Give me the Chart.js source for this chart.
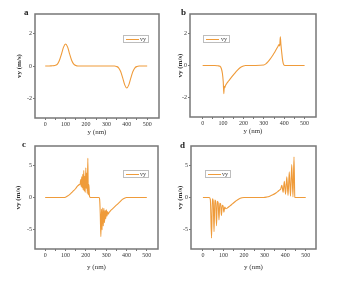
<!DOCTYPE html>
<html>
<head>
<meta charset="utf-8">
<script src="https://cdn.jsdelivr.net/npm/chart.js@4/dist/chart.umd.min.js"></script>
<style>
  html, body { margin: 0; padding: 0; background: #fff; }
  #wrap { position: relative; width: 352px; height: 281px; overflow: hidden; font-family: 'Liberation Serif', serif; }
  .panel { position: absolute; }
  .letter { position: absolute; font-size: 9px; font-weight: bold; color: #222; line-height: 1; }
  .legend { position: absolute; border: 1px solid #bdbdbd; height: 6px; font-size: 6px; line-height: 6px; color: #444; box-sizing: content-box; }
  .legend .ln { position: absolute; left: 2px; top: 3px; width: 13px; height: 1px; background: #ef9b3a; }
  .legend .tx { position: absolute; right: 2px; top: 0; }
</style>
</head>
<body>
<div id="wrap">
  <div class="panel" style="left:0;top:0"><canvas id="cA" width="176" height="140"></canvas></div>
  <div class="panel" style="left:176px;top:0"><canvas id="cB" width="176" height="140"></canvas></div>
  <div class="panel" style="left:0;top:140px"><canvas id="cC" width="176" height="141"></canvas></div>
  <div class="panel" style="left:176px;top:140px"><canvas id="cD" width="176" height="141"></canvas></div>

  <div class="letter" style="left:24px;top:8px">a</div>
  <div class="letter" style="left:181px;top:8px">b</div>
  <div class="letter" style="left:22px;top:140px">c</div>
  <div class="letter" style="left:180px;top:141px">d</div>

  <div class="legend" style="left:123px;top:35px;width:24px"><span class="ln"></span><span class="tx">vy</span></div>
  <div class="legend" style="left:203px;top:35px;width:25px"><span class="ln"></span><span class="tx">vy</span></div>
  <div class="legend" style="left:123px;top:170px;width:24px"><span class="ln"></span><span class="tx">vy</span></div>
  <div class="legend" style="left:205px;top:170px;width:24px"><span class="ln"></span><span class="tx">vy</span></div>
</div>
<script>
// positions (nm) and vy (m/s)
const posA = [0,10,20,30,40,50,60,70,80,90,100,110,120,130,140,150,160,200,250,300,340,350,360,370,380,390,400,410,420,430,440,450,460,500];
const vyA  = [0,0,0,0.01,0.02,0.04,0.12,0.35,0.74,1.16,1.35,1.16,0.73,0.34,0.11,0.03,0,0,0,0,0,-0.03,-0.11,-0.34,-0.73,-1.16,-1.35,-1.16,-0.73,-0.34,-0.11,-0.03,0,0];

const posB = [0,60,75,85,92,97,101,104,106,108,112,118,128,140,155,170,185,200,210,260,300,310,320,330,340,350,360,370,375,378,381,384,388,392,396,400,410,500];
const vyB  = [0,0,-0.02,-0.05,-0.2,-0.5,-1.0,-1.75,-1.3,-1.4,-1.25,-1.12,-0.95,-0.75,-0.52,-0.3,-0.12,-0.03,0,0,0.03,0.1,0.22,0.38,0.56,0.76,0.98,1.2,1.3,1.22,1.78,1.3,0.8,0.35,0.1,0.02,0,0];

const posC = [0,90,100,110,120,130,140,150,160,168,172,175,177,180,182,185,187,190,192,195,197,200,202,205,207,210,212,215,218,222,
              265,268,271,274,277,280,283,286,289,292,295,298,301,304,307,310,315,320,330,340,350,360,370,380,390,400,500];
const vyC  = [0,0,0.05,0.22,0.45,0.75,1.05,1.4,1.8,2.0,2.1,2.8,1.7,3.2,1.5,3.6,1.2,4.2,1.0,3.3,0.8,4.6,1.4,3.8,0.6,6.1,0.4,2.0,0.2,0,
              0,-0.3,-2.5,-6.1,-1.8,-5.0,-1.6,-4.4,-1.7,-3.9,-2.0,-3.3,-1.9,-2.9,-2.2,-2.6,-2.3,-2.1,-1.8,-1.5,-1.2,-0.9,-0.6,-0.3,-0.1,0,0];

const posD = [0,30,36,42,46,50,54,58,62,66,70,74,78,82,86,90,94,98,102,106,112,120,130,145,160,175,190,200,
              295,310,325,340,355,365,372,378,384,390,396,402,408,414,420,426,432,438,443,447,450,500];
const vyD  = [0,0,-0.3,-6.3,-0.2,-0.5,-5.3,-0.4,-0.6,-4.4,-0.6,-0.8,-3.5,-0.9,-1.0,-2.8,-1.2,-1.3,-2.3,-1.5,-1.75,-1.6,-1.35,-0.95,-0.55,-0.22,-0.05,0,
              0,0.07,0.2,0.42,0.7,0.95,1.15,1.3,1.9,0.8,2.5,0.5,3.2,0.3,4.0,0.2,5.1,0.1,6.3,0.05,0,0];

const xTickVals = [0,50,100,150,200,250,300,350,400,450,500];
const yTicksSmall = [-2,0,2];
const yTicksLarge = [-5,0,5];

const lineColor = '#ef9b3a';
const axisColor = '#777';
const textColor = '#333';
const fontFam = "'Liberation Serif', serif";

// closed box around the plot area
const framePlugin = {
  id: 'frame',
  afterDraw(chart) {
    const { ctx, chartArea: a } = chart;
    ctx.save();
    ctx.strokeStyle = axisColor;
    ctx.lineWidth = 1.5;
    ctx.strokeRect(a.left, a.top, a.right - a.left, a.bottom - a.top);
    ctx.restore();
  }
};

function drawPanel(id, xs, ys, opt) {
  const ctx = document.getElementById(id).getContext('2d');
  const pts = xs.map((x, i) => ({ x: x, y: ys[i] }));
  new Chart(ctx, {
    type: 'line',
    data: {
      datasets: [{
        label: 'vy',
        data: pts,
        borderColor: lineColor,
        borderWidth: 1.1,
        pointRadius: 0,
        cubicInterpolationMode: 'monotone',
        fill: false
      }]
    },
    options: {
      responsive: false,
      animation: false,
      events: [],
      layout: { padding: opt.pad },
      plugins: { legend: { display: false }, tooltip: { enabled: false } },
      scales: {
        x: {
          type: 'linear',
          min: opt.xmin, max: opt.xmax,
          afterBuildTicks: s => { s.ticks = xTickVals.map(v => ({ value: v })); },
          afterFit: s => { s.height = opt.xh; },
          border: { display: false },
          grid: { drawOnChartArea: false, tickLength: 2, color: axisColor },
          ticks: {
            autoSkip: false, maxRotation: 0, padding: 1,
            color: textColor, font: { family: fontFam, size: 6 },
            callback: v => (v % 100 === 0 ? String(v) : '')
          },
          title: { display: true, text: 'y (nm)', color: textColor, padding: 0, font: { family: fontFam, size: 7 } }
        },
        y: {
          min: opt.ymin, max: opt.ymax,
          afterBuildTicks: s => { s.ticks = opt.yticks.map(v => ({ value: v })); },
          afterFit: s => { s.width = opt.yw; },
          border: { display: false },
          grid: { drawOnChartArea: false, tickLength: 2, color: axisColor },
          ticks: { padding: 1, color: textColor, font: { family: fontFam, size: 6 } },
          title: { display: true, text: 'vy (m/s)', color: textColor, padding: 0, font: { family: fontFam, size: 7, weight: 'bold' } }
        }
      }
    },
    plugins: [framePlugin]
  });
}

try {
  drawPanel('cA', posA, vyA, { xmin: -50, xmax: 558, ymin: -3.2, ymax: 3.2, yticks: yTicksSmall,
    yw: 20, xh: 18, pad: { left: 15, right: 17, top: 14, bottom: 4 } });
  drawPanel('cB', posB, vyB, { xmin: -62, xmax: 556, ymin: -3.2, ymax: 3.2, yticks: yTicksSmall,
    yw: 14, xh: 18, pad: { left: 0, right: 36, top: 14, bottom: 5 } });
  drawPanel('cC', posC, vyC, { xmin: -50, xmax: 555, ymin: -8, ymax: 8, yticks: yTicksLarge,
    yw: 21, xh: 22, pad: { left: 14, right: 18, top: 6, bottom: 10 } });
  drawPanel('cD', posD, vyD, { xmin: -58, xmax: 550, ymin: -8, ymax: 8, yticks: yTicksLarge,
    yw: 15, xh: 22, pad: { left: 0, right: 36, top: 6, bottom: 10 } });
} catch (e) {
  console.error('Chart render failed', e);
}
</script>
</body>
</html>
